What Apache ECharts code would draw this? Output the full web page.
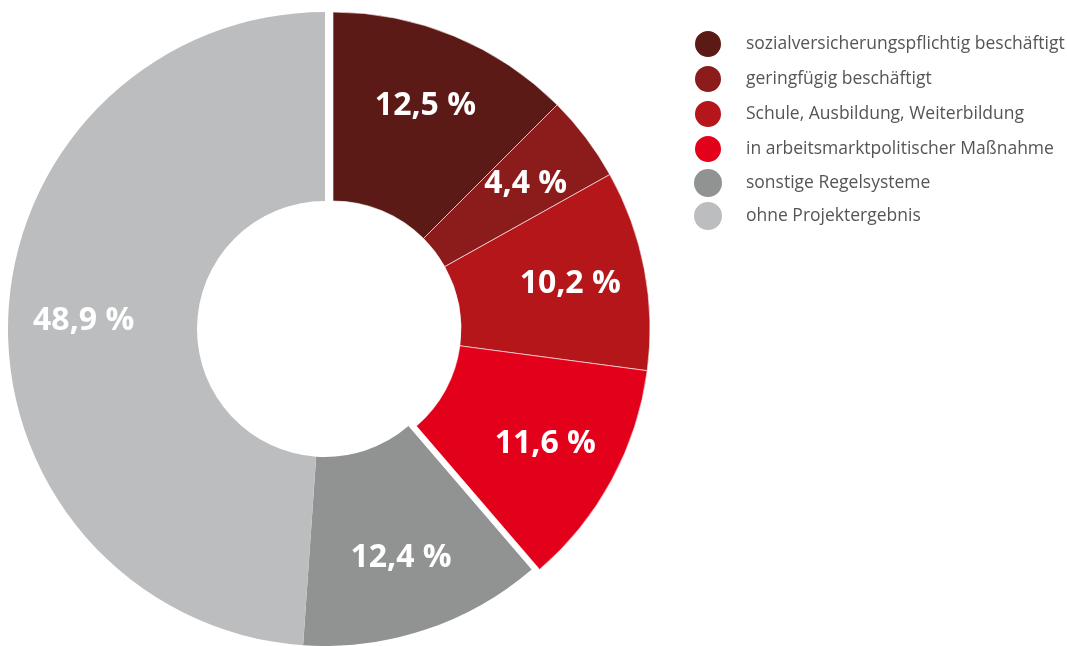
<!DOCTYPE html>
<html>
<head>
<meta charset="utf-8">
<script src="https://cdn.jsdelivr.net/npm/echarts@6/dist/echarts.min.js"></script>
<style>
html,body{margin:0;padding:0;background:#fff;}
#chart{width:1067px;height:646px;}
</style>
</head>
<body>
<div id="chart"></div>
<script>
const categories = [
  'sozialversicherungspflichtig beschäftigt',
  'geringfügig beschäftigt',
  'Schule, Ausbildung, Weiterbildung',
  'in arbeitsmarktpolitischer Maßnahme',
  'sonstige Regelsysteme',
  'ohne Projektergebnis'
];
const values = [12.5, 4.4, 10.2, 11.6, 12.4, 48.9];
const colors = ['#5b1a15', '#8c1b1b', '#b4161a', '#e2001a', '#919392', '#bcbdbf'];
const redCount = 4; // first four slices form the pulled-out group

const redCenter = [333, 329];
const greyCenter = [325, 329];
const ringRadius = [128, 317];
const labelPush = 16;

const fmt = v => v.toFixed(1).replace('.', ',') + ' %';
const sum = arr => arr.reduce((a, b) => a + b, 0);

const redValues = values.slice(0, redCount);
const greyValues = values.slice(redCount);

const placeholder = v => ({
  name: '',
  value: v,
  itemStyle: { color: 'rgba(0,0,0,0)', borderWidth: 0 },
  label: { show: false },
  emphasis: { disabled: true },
  tooltip: { show: false }
});

const redData = redValues.map((v, i) => ({
  name: categories[i], value: v, itemStyle: { color: colors[i] }
})).concat([placeholder(sum(greyValues))]);

const greyData = [placeholder(sum(redValues))].concat(greyValues.map((v, i) => ({
  name: categories[i + redCount], value: v, itemStyle: { color: colors[i + redCount] }
})));

const labelStyle = {
  show: true,
  position: 'inside',
  color: '#ffffff',
  fontFamily: 'Open Sans',
  fontWeight: 'bold',
  fontSize: 32,
  formatter: p => fmt(p.value)
};

const pushOut = center => params => {
  const r = params.labelRect;
  const cx = r.x + r.width / 2 - center[0];
  const cy = r.y + r.height / 2 - center[1];
  const d = Math.sqrt(cx * cx + cy * cy) || 1;
  return { dx: cx / d * labelPush, dy: cy / d * labelPush };
};

const chart = echarts.init(document.getElementById('chart'), null, { renderer: 'canvas' });
chart.setOption({
  animation: false,
  legend: {
    orient: 'vertical',
    left: 688,
    top: 24,
    icon: 'circle',
    itemWidth: 28,
    itemHeight: 28,
    itemGap: 5,
    selectedMode: false,
    textStyle: {
      color: '#555555',
      fontFamily: 'Open Sans',
      fontSize: 17.5,
      padding: [0, 0, 0, 19]
    },
    data: categories.map((c, i) => ({ name: c, itemStyle: { color: colors[i] } }))
  },
  series: [
    {
      type: 'pie',
      center: redCenter,
      radius: ringRadius,
      startAngle: 90,
      clockwise: true,
      sort: null,
      avoidLabelOverlap: false,
      itemStyle: { borderColor: '#ffffff', borderWidth: 0.6 },
      label: labelStyle,
      labelLine: { show: false },
      labelLayout: pushOut(redCenter),
      emphasis: { scale: false },
      data: redData
    },
    {
      type: 'pie',
      center: greyCenter,
      radius: ringRadius,
      startAngle: 90,
      clockwise: true,
      sort: null,
      avoidLabelOverlap: false,
      itemStyle: { borderWidth: 0 },
      label: labelStyle,
      labelLine: { show: false },
      labelLayout: pushOut(greyCenter),
      emphasis: { scale: false },
      data: greyData
    }
  ]
});
</script>
</body>
</html>
